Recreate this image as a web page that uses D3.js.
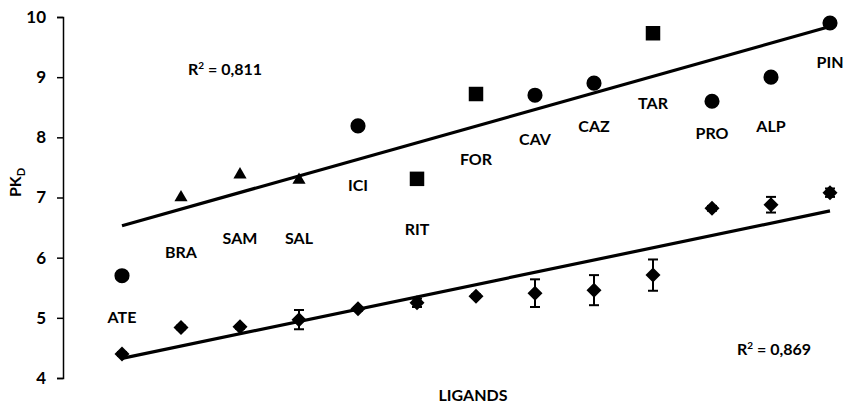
<!DOCTYPE html>
<html>
<head>
<meta charset="utf-8">
<script src="https://cdn.jsdelivr.net/npm/d3@7"></script>
<style>
  body { margin: 0; background: #fff; }
  text { font-family: Lato, "Open Sans", sans-serif; font-weight: bold; fill: #000; }
</style>
</head>
<body>
<div id="chart"></div>
<script>
const ligands = ["ATE", "BRA", "SAM", "SAL", "ICI", "RIT", "FOR", "CAV", "CAZ", "TAR", "PRO", "ALP", "PIN"];
// upper series and its marker shapes
const upperValues = [5.70, 7.00, 7.38, 7.29, 8.19, 7.31, 8.72, 8.70, 8.90, 9.73, 8.60, 9.00, 9.90];
const upperShapes = ["circle", "triangle", "triangle", "triangle", "circle", "square", "square", "circle", "circle", "square", "circle", "circle", "circle"];
// lower series with error bars
const lowerValues = [4.40, 4.84, 4.85, 4.97, 5.15, 5.25, 5.36, 5.41, 5.46, 5.71, 6.82, 6.88, 7.08];
const lowerErrors = [0.03, 0.03, 0.03, 0.16, 0.03, 0.07, 0.03, 0.23, 0.25, 0.26, 0.04, 0.13, 0.07];
// height (in pKD units) where each ligand name is written
const labelLevels = [5.01, 6.09, 6.33, 6.33, 7.21, 6.48, 7.64, 7.97, 8.19, 8.56, 8.07, 8.19, 9.25];
const yTicks = [4, 5, 6, 7, 8, 9, 10];

const width = 846, height = 404;
const margin = {left: 63, top: 17, bottom: 26};

const svg = d3.select("#chart").append("svg")
  .attr("width", width)
  .attr("height", height);

const x = d3.scalePoint().domain(ligands).range([margin.left, margin.left + 826]).padding(1);
const y = d3.scaleLinear().domain([4, 10]).range([height - margin.bottom, margin.top]);

// y axis
const yAxis = d3.axisLeft(y).tickValues(yTicks).tickFormat(d3.format("d")).tickSize(6).tickPadding(11);
const gy = svg.append("g")
  .attr("transform", "translate(" + margin.left + ",0)")
  .call(yAxis);
gy.select(".domain").attr("stroke", "#000").attr("stroke-width", 1.5);
gy.selectAll(".tick line").attr("stroke", "#000").attr("stroke-width", 1.5);
gy.selectAll(".tick text").style("font-size", "17px").style("font-family", "Lato, sans-serif").style("font-weight", "bold");

// axis titles
const yTitle = svg.append("text")
  .attr("transform", "translate(21," + y(7.25) + ") rotate(-90)")
  .attr("text-anchor", "middle")
  .style("font-size", "16px");
yTitle.append("tspan").text("PK");
yTitle.append("tspan").text("D").attr("dy", 4).style("font-size", "11px");

svg.append("text")
  .text("LIGANDS")
  .attr("x", 473)
  .attr("y", 401)
  .attr("text-anchor", "middle")
  .style("font-size", "16px");

// regression lines
function fit(vals) {
  const xs = vals.map((d, i) => i + 1);
  const mx = d3.mean(xs), my = d3.mean(vals);
  const sxy = d3.sum(xs, (xi, i) => (xi - mx) * (vals[i] - my));
  const sxx = d3.sum(xs, xi => (xi - mx) * (xi - mx));
  const b = sxy / sxx, a = my - b * mx;
  return [a + b * 1, a + b * vals.length];
}

const line = d3.line().x(d => x(d[0])).y(d => y(d[1]));
[upperValues, lowerValues].forEach(vals => {
  const ends = fit(vals);
  svg.append("path")
    .attr("d", line([[ligands[0], ends[0]], [ligands[ligands.length - 1], ends[1]]]))
    .attr("fill", "none")
    .attr("stroke", "#000")
    .attr("stroke-width", 3.2);
});

// upper markers
const symbolFor = {
  circle: d3.symbol().type(d3.symbolCircle).size(180),
  square: d3.symbol().type(d3.symbolSquare).size(210),
  triangle: d3.symbol().type(d3.symbolTriangle).size(75)
};
svg.append("g").selectAll("path")
  .data(upperValues)
  .enter()
  .append("path")
  .attr("d", (d, i) => symbolFor[upperShapes[i]]())
  .attr("transform", (d, i) => "translate(" + x(ligands[i]) + "," + y(d) + ")")
  .attr("fill", "#000");

// lower error bars
const eb = svg.append("g").attr("stroke", "#000").attr("stroke-width", 2);
lowerValues.forEach((v, i) => {
  const cx = x(ligands[i]), e = lowerErrors[i];
  eb.append("line").attr("x1", cx).attr("x2", cx).attr("y1", y(v - e)).attr("y2", y(v + e));
  eb.append("line").attr("x1", cx - 5).attr("x2", cx + 5).attr("y1", y(v - e)).attr("y2", y(v - e));
  eb.append("line").attr("x1", cx - 5).attr("x2", cx + 5).attr("y1", y(v + e)).attr("y2", y(v + e));
});

// lower diamonds
svg.append("g").selectAll("path")
  .data(lowerValues)
  .enter()
  .append("path")
  .attr("d", "M0,-7.5L7.5,0L0,7.5L-7.5,0Z")
  .attr("transform", (d, i) => "translate(" + x(ligands[i]) + "," + y(d) + ")")
  .attr("fill", "#000");

// ligand names
svg.append("g").selectAll("text")
  .data(ligands)
  .enter()
  .append("text")
  .text(d => d)
  .attr("x", d => x(d))
  .attr("y", (d, i) => y(labelLevels[i]))
  .attr("dy", "0.36em")
  .attr("text-anchor", "middle")
  .style("font-size", "16px");

// R² annotations
function r2(txt, xp, yp) {
  const t = svg.append("text").attr("x", xp).attr("y", yp).style("font-size", "16px");
  t.append("tspan").text("R");
  t.append("tspan").text("2").attr("dy", -6).style("font-size", "10px");
  t.append("tspan").text(" = " + txt).attr("dy", 6);
}
r2("0,811", 188, 75);
r2("0,869", 737, 355);
</script>
</body>
</html>
